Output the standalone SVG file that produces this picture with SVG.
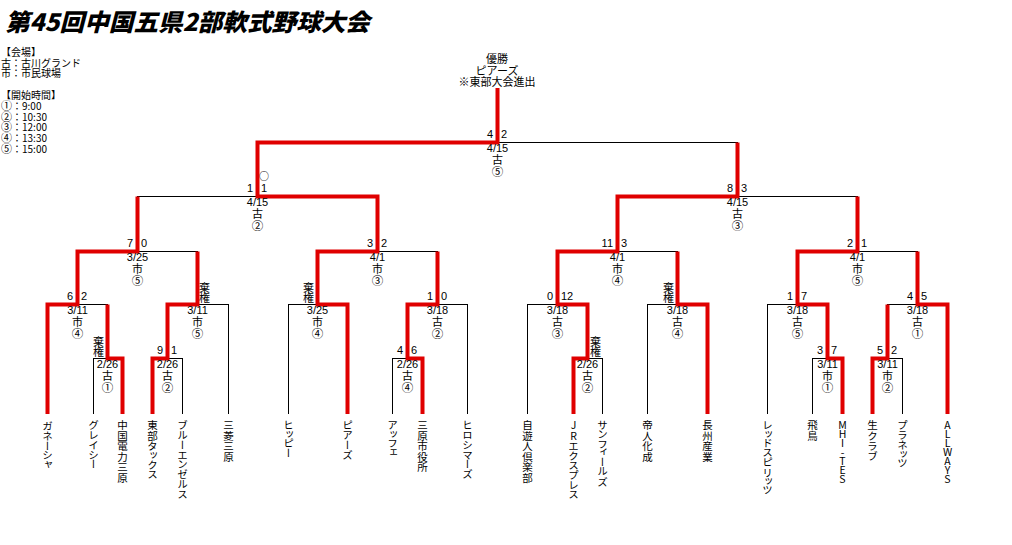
<svg xmlns="http://www.w3.org/2000/svg" width="1012" height="545" viewBox="0 0 1012 545">
<style>
text{font-family:"Liberation Sans","Noto Sans CJK JP",sans-serif;fill:#000}
.title{font-size:24px;font-weight:900;font-style:italic;font-family:"Noto Sans CJK JP",sans-serif}
.lg{font-size:10px;font-family:"Noto Sans CJK JP",sans-serif}
.c{font-size:11px;text-anchor:middle}
.n{font-family:"Noto Sans CJK JP",sans-serif;font-size:11.5px}
.sl{font-size:11px;text-anchor:end}
.sr{font-size:11px;text-anchor:start}
.fl{font-size:11px;text-anchor:end}
.fr{font-size:11px;text-anchor:start}
.team{font-size:10.5px;writing-mode:vertical-rl;text-orientation:upright;font-family:"Noto Sans CJK JP",sans-serif;font-feature-settings:"vpal" 1}
.lat{letter-spacing:-1.5px}
.b{stroke:#000;stroke-width:1;fill:none}
.r{stroke:#e00000;stroke-width:4;fill:none;stroke-linejoin:miter;stroke-linecap:butt}
</style>
<rect width="1012" height="545" fill="#fff"/>
<text class="title" x="5" y="31" textLength="365" lengthAdjust="spacingAndGlyphs">第45回中国五県2部軟式野球大会</text>
<g id="legend">
<text class="lg" x="1" y="56">【会場】<tspan x="1" dy="10.5">古：古川グランド</tspan><tspan x="1" dy="10.5">市：市民球場</tspan><tspan x="1" dy="22">【開始時間】</tspan><tspan x="1" dy="11"><tspan class="n" style="font-size:11px">①</tspan>：9:00</tspan><tspan x="1" dy="10.5"><tspan class="n" style="font-size:11px">②</tspan>：10:30</tspan><tspan x="1" dy="10.7"><tspan class="n" style="font-size:11px">③</tspan>：12:00</tspan><tspan x="1" dy="10.7"><tspan class="n" style="font-size:11px">④</tspan>：13:30</tspan><tspan x="1" dy="10.7"><tspan class="n" style="font-size:11px">⑤</tspan>：15:00</tspan></text>
</g>
<g id="connectors">
<path class="b" shape-rendering="crispEdges" d="M47.5 414V304 M93.5 414V358 M122.5 414V358 M152.5 414V358 M182.5 414V358 M228.5 414V304 M288.5 414V304 M347.5 414V304 M392.5 414V358 M422.5 414V358 M467.5 414V304 M527.5 414V304 M573.5 414V358 M602.5 414V358 M647.5 414V304 M707.5 414V304 M767.5 414V304 M812.5 414V358 M842.5 414V358 M872.5 414V358 M902.5 414V358 M947.5 414V304
M93 358.5H123 M107.5 358V304
M47 304.5H108 M77.5 304V251
M152 358.5H183 M167.5 358V304
M167 304.5H229 M197.5 304V251
M77 251.5H198 M137.5 251V196
M288 304.5H348 M317.5 304V251
M392 358.5H423 M407.5 358V304
M407 304.5H468 M437.5 304V251
M317 251.5H438 M377.5 251V196
M137 196.5H378 M257.5 196V142
M573 358.5H603 M587.5 358V304
M527 304.5H588 M557.5 304V251
M647 304.5H708 M677.5 304V251
M557 251.5H678 M617.5 251V196
M812 358.5H843 M827.5 358V304
M767 304.5H828 M797.5 304V251
M872 358.5H903 M887.5 358V304
M887 304.5H948 M917.5 304V251
M797 251.5H918 M857.5 251V196
M617 196.5H858 M737.5 196V142
M257 142.5H738 M497.5 142V88"/>
<polyline class="r" points="47.5,414 47.5,304.5 77.5,304.5 77.5,251.5 137.5,251.5 137.5,196.5"/>
<polyline class="r" points="122.5,414 122.5,358.5 107.5,358.5 107.5,304.5"/>
<polyline class="r" points="152.5,414 152.5,358.5 167.5,358.5 167.5,304.5 197.5,304.5 197.5,251.5"/>
<polyline class="r" points="347.5,414 347.5,304.5 317.5,304.5 317.5,251.5 377.5,251.5 377.5,196.5 257.5,196.5 257.5,142.5 497.5,142.5 497.5,88"/>
<polyline class="r" points="422.5,414 422.5,358.5 407.5,358.5 407.5,304.5 437.5,304.5 437.5,251.5"/>
<polyline class="r" points="573.5,414 573.5,358.5 587.5,358.5 587.5,304.5 557.5,304.5 557.5,251.5 617.5,251.5 617.5,196.5 737.5,196.5 737.5,142.5"/>
<polyline class="r" points="707.5,414 707.5,304.5 677.5,304.5 677.5,251.5"/>
<polyline class="r" points="842.5,414 842.5,358.5 827.5,358.5 827.5,304.5 797.5,304.5 797.5,251.5 857.5,251.5 857.5,196.5"/>
<polyline class="r" points="872.5,414 872.5,358.5 887.5,358.5 887.5,304.5"/>
<polyline class="r" points="947.5,414 947.5,304.5 917.5,304.5 917.5,251.5"/>
</g>
<g id="champion">
<text class="c" x="497" y="63">優勝<tspan x="497" dy="12">ピアーズ</tspan><tspan x="497" dy="11">※東部大会進出</tspan></text>
</g>
<g id="m1"><text class="fl" x="104" y="346">棄<tspan x="104" dy="10">権</tspan></text><text class="c" x="107.5" y="368">2/26<tspan x="107.5" dy="12">古</tspan><tspan class="n" x="107.5" dy="11.5">①</tspan></text></g>
<g id="m2"><text class="sl" x="73" y="300">6</text><text class="sr" x="81" y="300">2</text><text class="c" x="77.5" y="314">3/11<tspan x="77.5" dy="12">市</tspan><tspan class="n" x="77.5" dy="11.5">④</tspan></text></g>
<g id="m3"><text class="sl" x="163" y="354">9</text><text class="sr" x="171" y="354">1</text><text class="c" x="167.5" y="368">2/26<tspan x="167.5" dy="12">古</tspan><tspan class="n" x="167.5" dy="11.5">②</tspan></text></g>
<g id="m4"><text class="fr" x="199" y="292">棄<tspan x="199" dy="10">権</tspan></text><text class="c" x="197.5" y="314">3/11<tspan x="197.5" dy="12">市</tspan><tspan class="n" x="197.5" dy="11.5">⑤</tspan></text></g>
<g id="m5"><text class="sl" x="133" y="247">7</text><text class="sr" x="141" y="247">0</text><text class="c" x="137.5" y="261">3/25<tspan x="137.5" dy="12">市</tspan><tspan class="n" x="137.5" dy="11.5">⑤</tspan></text></g>
<g id="m6"><text class="fl" x="314" y="292">棄<tspan x="314" dy="10">権</tspan></text><text class="c" x="317.5" y="314">3/25<tspan x="317.5" dy="12">市</tspan><tspan class="n" x="317.5" dy="11.5">④</tspan></text></g>
<g id="m7"><text class="sl" x="403" y="354">4</text><text class="sr" x="411" y="354">6</text><text class="c" x="407.5" y="368">2/26<tspan x="407.5" dy="12">古</tspan><tspan class="n" x="407.5" dy="11.5">④</tspan></text></g>
<g id="m8"><text class="sl" x="433" y="300">1</text><text class="sr" x="441" y="300">0</text><text class="c" x="437.5" y="314">3/18<tspan x="437.5" dy="12">古</tspan><tspan class="n" x="437.5" dy="11.5">②</tspan></text></g>
<g id="m9"><text class="sl" x="373" y="247">3</text><text class="sr" x="381" y="247">2</text><text class="c" x="377.5" y="261">4/1<tspan x="377.5" dy="12">市</tspan><tspan class="n" x="377.5" dy="11.5">③</tspan></text></g>
<g id="m10"><text class="c" x="264" y="180" style="font-family:'Noto Sans CJK JP',sans-serif;font-size:10px">○</text><text class="sl" x="253" y="192">1</text><text class="sr" x="261" y="192">1</text><text class="c" x="257.5" y="206">4/15<tspan x="257.5" dy="12">古</tspan><tspan class="n" x="257.5" dy="11.5">②</tspan></text></g>
<g id="m11"><text class="fr" x="590" y="346">棄<tspan x="590" dy="10">権</tspan></text><text class="c" x="587.5" y="368">2/26<tspan x="587.5" dy="12">古</tspan><tspan class="n" x="587.5" dy="11.5">②</tspan></text></g>
<g id="m12"><text class="sl" x="553" y="300">0</text><text class="sr" x="561" y="300">12</text><text class="c" x="557.5" y="314">3/18<tspan x="557.5" dy="12">古</tspan><tspan class="n" x="557.5" dy="11.5">③</tspan></text></g>
<g id="m13"><text class="fl" x="674" y="292">棄<tspan x="674" dy="10">権</tspan></text><text class="c" x="677.5" y="314">3/18<tspan x="677.5" dy="12">古</tspan><tspan class="n" x="677.5" dy="11.5">④</tspan></text></g>
<g id="m14"><text class="sl" x="613" y="247">11</text><text class="sr" x="621" y="247">3</text><text class="c" x="617.5" y="261">4/1<tspan x="617.5" dy="12">市</tspan><tspan class="n" x="617.5" dy="11.5">④</tspan></text></g>
<g id="m15"><text class="sl" x="823" y="354">3</text><text class="sr" x="831" y="354">7</text><text class="c" x="827.5" y="368">3/11<tspan x="827.5" dy="12">市</tspan><tspan class="n" x="827.5" dy="11.5">①</tspan></text></g>
<g id="m16"><text class="sl" x="793" y="300">1</text><text class="sr" x="801" y="300">7</text><text class="c" x="797.5" y="314">3/18<tspan x="797.5" dy="12">古</tspan><tspan class="n" x="797.5" dy="11.5">⑤</tspan></text></g>
<g id="m17"><text class="sl" x="883" y="354">5</text><text class="sr" x="891" y="354">2</text><text class="c" x="887.5" y="368">3/11<tspan x="887.5" dy="12">市</tspan><tspan class="n" x="887.5" dy="11.5">②</tspan></text></g>
<g id="m18"><text class="sl" x="913" y="300">4</text><text class="sr" x="921" y="300">5</text><text class="c" x="917.5" y="314">3/18<tspan x="917.5" dy="12">古</tspan><tspan class="n" x="917.5" dy="11.5">①</tspan></text></g>
<g id="m19"><text class="sl" x="853" y="247">2</text><text class="sr" x="861" y="247">1</text><text class="c" x="857.5" y="261">4/1<tspan x="857.5" dy="12">市</tspan><tspan class="n" x="857.5" dy="11.5">⑤</tspan></text></g>
<g id="m20"><text class="sl" x="733" y="192">8</text><text class="sr" x="741" y="192">3</text><text class="c" x="737.5" y="206">4/15<tspan x="737.5" dy="12">古</tspan><tspan class="n" x="737.5" dy="11.5">③</tspan></text></g>
<g id="m21"><text class="sl" x="493" y="138">4</text><text class="sr" x="501" y="138">2</text><text class="c" x="497.5" y="152">4/15<tspan x="497.5" dy="12">古</tspan><tspan class="n" x="497.5" dy="11.5">⑤</tspan></text></g>
<g id="team1"><text class="team" x="47.5" y="420">ガネーシャ</text></g>
<g id="team2"><text class="team" x="93.5" y="420">グレイシー</text></g>
<g id="team3"><text class="team" x="122.5" y="420">中国電力三原</text></g>
<g id="team4"><text class="team" x="152.5" y="420">東部タックス</text></g>
<g id="team5"><text class="team" x="182.5" y="420">ブルーエンゼルス</text></g>
<g id="team6"><text class="team" x="228.5" y="420">三菱三原</text></g>
<g id="team7"><text class="team" x="288.5" y="420">ヒッピー</text></g>
<g id="team8"><text class="team" x="347.5" y="420">ピアーズ</text></g>
<g id="team9"><text class="team" x="392.5" y="420">アッフェ</text></g>
<g id="team10"><text class="team" x="422.5" y="420">三原市役所</text></g>
<g id="team11"><text class="team" x="467.5" y="420">ヒロシマーズ</text></g>
<g id="team12"><text class="team" x="527.5" y="420">自遊人倶楽部</text></g>
<g id="team13"><text class="team" x="573.5" y="420">JRエクスプレス</text></g>
<g id="team14"><text class="team" x="602.5" y="420">サンフィールズ</text></g>
<g id="team15"><text class="team" x="647.5" y="420">帝人化成</text></g>
<g id="team16"><text class="team" x="707.5" y="420">長州産業</text></g>
<g id="team17"><text class="team" x="767.5" y="420">レッドスピリッツ</text></g>
<g id="team18"><text class="team" x="812.5" y="420">飛鳥</text></g>
<g id="team19"><text class="team lat" x="842.5" y="420">MHI-TES</text></g>
<g id="team20"><text class="team" x="872.5" y="420">生クラブ</text></g>
<g id="team21"><text class="team" x="902.5" y="420">プラネッツ</text></g>
<g id="team22"><text class="team lat" x="947.5" y="420">ALLWAYS</text></g>
</svg>
